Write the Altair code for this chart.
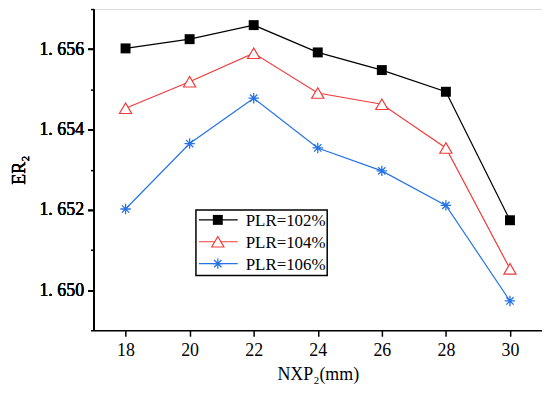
import altair as alt
import pandas as pd

nxp = [18, 20, 22, 24, 26, 28, 30]
er_102 = [1.65602, 1.65625, 1.65660, 1.65592, 1.65548, 1.65494, 1.65174]
er_104 = [1.65453, 1.65519, 1.65590, 1.65491, 1.65463, 1.65354, 1.65053]
er_106 = [1.65202, 1.65365, 1.65478, 1.65354, 1.65297, 1.65211, 1.64973]
series = ["PLR=102%", "PLR=104%", "PLR=106%"]
colors = ["#000000", "#F03C3C", "#2673E6"]
x_ticks = [18, 20, 22, 24, 26, 28, 30]
y_major = [1.650, 1.652, 1.654, 1.656]
y_minor = [1.649, 1.651, 1.653, 1.655, 1.657]

rows = []
for s, vals in zip(series, [er_102, er_104, er_106]):
    for x, v in zip(nxp, vals):
        rows.append({"NXP": x, "ER": v, "series": s})
df = pd.DataFrame(rows)

FONT = "Liberation Serif"
xs = alt.Scale(domain=[17, 31], nice=False, zero=False)
ys = alt.Scale(domain=[1.649, 1.657], nice=False, zero=False)
cs = alt.Scale(domain=series, range=colors)

base = alt.Chart(df)
X = alt.X("NXP:Q", scale=xs,
          axis=alt.Axis(values=x_ticks, title="NXP₂(mm)", grid=False, tickSize=6,
                        labelFontSize=18, titleFontSize=18, labelFont=FONT, titleFont=FONT,
                        labelColor="#000", titleColor="#000", domainColor="#000", tickColor="#000",
                        domainWidth=1.5, tickWidth=1.5, labelPadding=5, titlePadding=7,
                        titleFontWeight="normal"))
Y = alt.Y("ER:Q", scale=ys,
          axis=alt.Axis(values=y_major, title="ER₂", grid=False, tickSize=6, orient="left",
                        labelExpr="replace(format(datum.value, '.3f'), '.', '. ')",
                        labelFontSize=18, titleFontSize=18, labelFont=FONT, titleFont=FONT,
                        labelColor="#000", titleColor="#000", domainColor="#000", tickColor="#000",
                        domainWidth=1.5, tickWidth=1.5, labelPadding=4, titlePadding=10,
                        titleFontWeight="normal"))
Ym = alt.Y("ER:Q", scale=ys,
           axis=alt.Axis(values=y_minor, title=None, labels=False, grid=False, tickSize=3,
                         orient="left", domain=False, tickColor="#000", tickWidth=1.5))

lines = base.mark_line(strokeWidth=1.2).encode(
    x=X, y=Y, color=alt.Color("series:N", scale=cs, legend=None), detail="series:N")

minor = base.mark_point(opacity=0).encode(x=X, y=Ym)

sq = base.transform_filter(alt.datum.series == series[0]).mark_point(
    shape="square", filled=True, size=100, color=colors[0], opacity=1).encode(x=X, y=Y)
tri = base.transform_filter(alt.datum.series == series[1]).mark_point(
    shape="triangle-up", filled=True, fill="white", size=150, stroke=colors[1],
    strokeWidth=1.2, opacity=1).encode(x=X, y=Y)
AST = "M -1 0 L 1 0 M 0 -1 L 0 1 M -0.7 -0.7 L 0.7 0.7 M -0.7 0.7 L 0.7 -0.7"
ast = base.transform_filter(alt.datum.series == series[2]).mark_point(
    shape=AST, filled=False, size=110, stroke=colors[2], strokeWidth=1.3,
    opacity=1).encode(x=X, y=Y)

# legend
box = alt.Chart(pd.DataFrame({"a": [0]})).mark_rect(
    fill="white", stroke="#000", strokeWidth=1.5).encode(
    x=alt.value(103), x2=alt.value(235), y=alt.value(202), y2=alt.value(268))
leg_layers = [box]
rows_y = [212, 234, 256]
for i, s in enumerate(series):
    d = alt.Chart(pd.DataFrame({"series": [s]}))
    leg_layers.append(d.mark_rule(color=colors[i], strokeWidth=1.2).encode(
        x=alt.value(106), x2=alt.value(145), y=alt.value(rows_y[i])))
    leg_layers.append(d.mark_text(align="left", baseline="middle", font=FONT, fontSize=17,
                                  color="#000").encode(
        x=alt.value(153), y=alt.value(rows_y[i] + 1), text="series:N"))
leg_layers.append(alt.Chart(pd.DataFrame({"a": [0]})).mark_point(
    shape="square", filled=True, size=100, color=colors[0], opacity=1).encode(
    x=alt.value(125), y=alt.value(rows_y[0])))
leg_layers.append(alt.Chart(pd.DataFrame({"a": [0]})).mark_point(
    shape="triangle-up", filled=True, fill="white", size=150, stroke=colors[1],
    strokeWidth=1.2, opacity=1).encode(x=alt.value(125), y=alt.value(rows_y[1])))
leg_layers.append(alt.Chart(pd.DataFrame({"a": [0]})).mark_point(
    shape=AST, filled=False, size=110, stroke=colors[2], strokeWidth=1.3,
    opacity=1).encode(x=alt.value(125), y=alt.value(rows_y[2])))

chart = alt.layer(minor, lines, sq, tri, ast, *leg_layers).resolve_axis(
    y="independent").properties(
    width=451, height=323,
    autosize=alt.AutoSizeParams(type="none"),
    padding={"left": 86, "top": 0, "right": 0, "bottom": 56},
).configure_view(stroke="#000", strokeWidth=1.5).configure_axis(
    titleFontWeight="normal").configure(background="white")

chart.save("out.html", embed_options={"renderer": "svg", "actions": False})
